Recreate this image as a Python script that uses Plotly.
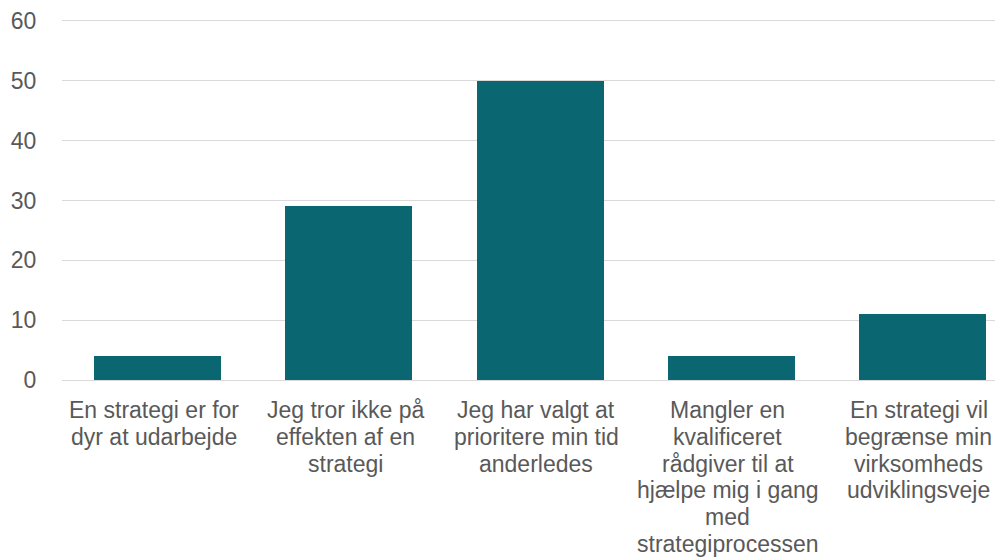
import plotly.graph_objects as go

categories = [
    "En strategi er for<br>dyr at udarbejde",
    "Jeg tror ikke på<br>effekten af en<br>strategi",
    "Jeg har valgt at<br>prioritere min tid<br>anderledes",
    "Mangler en<br>kvalificeret<br>rådgiver til at<br>hjælpe mig i gang<br>med<br>strategiprocessen",
    "En strategi vil<br>begrænse min<br>virksomheds<br>udviklingsveje",
]
values = [4, 29, 50, 4, 11]
y_ticks = [0, 10, 20, 30, 40, 50, 60]

FONT = "Liberation Sans, Arial, sans-serif"
TXT = "#595959"
FS = 23
LINE = 26.8
FIRST = 30

fig = go.Figure(go.Bar(
    x=list(range(len(categories))),
    y=values,
    marker=dict(color="#0a6670", line=dict(width=0)),
    width=0.665,
    hoverinfo="skip",
))

annotations = []
for i, cat in enumerate(categories):
    for j, line in enumerate(cat.split("<br>")):
        annotations.append(dict(
            x=i - 0.02, y=0, xref="x", yref="y", text=line, showarrow=False,
            xanchor="center", yanchor="middle", yshift=-(FIRST + j * LINE),
            font=dict(family=FONT, size=FS, color=TXT),
        ))

fig.update_layout(
    width=995, height=551,
    margin=dict(l=54, r=0, t=4, b=179),
    paper_bgcolor="white", plot_bgcolor="white",
    font=dict(family=FONT, size=FS, color=TXT),
    showlegend=False,
    bargap=0,
    annotations=annotations,
)
fig.update_xaxes(
    range=[-0.5, 4.42], showgrid=False, showline=False, zeroline=False,
    showticklabels=False, ticks="",
)
fig.update_yaxes(
    range=[0, 61], tickvals=y_ticks, showgrid=True, gridcolor="#d9d9d9", gridwidth=1.3,
    zeroline=True, zerolinecolor="#d9d9d9", zerolinewidth=1.3,
    ticks="outside", ticklen=20, tickcolor="rgba(0,0,0,0)",
    ticklabeloverflow="allow",
)

fig.write_html("out.html")
